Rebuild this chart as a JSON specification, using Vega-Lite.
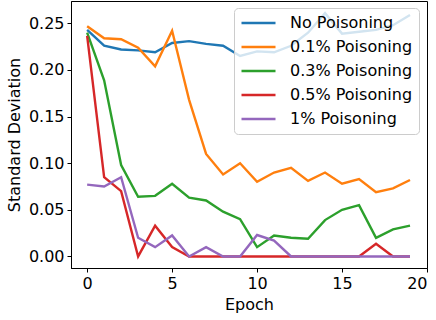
{
  "$schema": "https://vega.github.io/schema/vega-lite/v6.json",
  "autosize": "none",
  "width": 356,
  "height": 267,
  "padding": {"left": 71, "top": 1, "right": 9, "bottom": 52},
  "config": {
    "font": "DejaVu Sans",
    "view": {"stroke": "black", "strokeWidth": 1},
    "axis": {
      "grid": false,
      "domainColor": "black",
      "tickColor": "black",
      "labelColor": "black",
      "titleColor": "black",
      "labelFontSize": 16,
      "titleFontSize": 16,
      "titleFontWeight": "normal",
      "tickSize": 4,
      "labelPadding": 3
    },
    "legend": {
      "labelFontSize": 16,
      "labelColor": "black"
    }
  },
  "datasets": {
    "d": [
      {"epoch":0,"series":"No Poisoning","sd":0.243},{"epoch":1,"series":"No Poisoning","sd":0.226},{"epoch":2,"series":"No Poisoning","sd":0.222},{"epoch":3,"series":"No Poisoning","sd":0.221},{"epoch":4,"series":"No Poisoning","sd":0.219},{"epoch":5,"series":"No Poisoning","sd":0.229},{"epoch":6,"series":"No Poisoning","sd":0.231},{"epoch":7,"series":"No Poisoning","sd":0.228},{"epoch":8,"series":"No Poisoning","sd":0.226},{"epoch":9,"series":"No Poisoning","sd":0.215},{"epoch":10,"series":"No Poisoning","sd":0.220},{"epoch":11,"series":"No Poisoning","sd":0.219},{"epoch":12,"series":"No Poisoning","sd":0.226},{"epoch":13,"series":"No Poisoning","sd":0.240},{"epoch":14,"series":"No Poisoning","sd":0.261},{"epoch":15,"series":"No Poisoning","sd":0.239},{"epoch":16,"series":"No Poisoning","sd":0.241},{"epoch":17,"series":"No Poisoning","sd":0.243},{"epoch":18,"series":"No Poisoning","sd":0.248},{"epoch":19,"series":"No Poisoning","sd":0.259},
      {"epoch":0,"series":"0.1% Poisoning","sd":0.247},{"epoch":1,"series":"0.1% Poisoning","sd":0.234},{"epoch":2,"series":"0.1% Poisoning","sd":0.233},{"epoch":3,"series":"0.1% Poisoning","sd":0.224},{"epoch":4,"series":"0.1% Poisoning","sd":0.204},{"epoch":5,"series":"0.1% Poisoning","sd":0.242},{"epoch":6,"series":"0.1% Poisoning","sd":0.168},{"epoch":7,"series":"0.1% Poisoning","sd":0.110},{"epoch":8,"series":"0.1% Poisoning","sd":0.088},{"epoch":9,"series":"0.1% Poisoning","sd":0.100},{"epoch":10,"series":"0.1% Poisoning","sd":0.080},{"epoch":11,"series":"0.1% Poisoning","sd":0.090},{"epoch":12,"series":"0.1% Poisoning","sd":0.095},{"epoch":13,"series":"0.1% Poisoning","sd":0.081},{"epoch":14,"series":"0.1% Poisoning","sd":0.090},{"epoch":15,"series":"0.1% Poisoning","sd":0.078},{"epoch":16,"series":"0.1% Poisoning","sd":0.083},{"epoch":17,"series":"0.1% Poisoning","sd":0.069},{"epoch":18,"series":"0.1% Poisoning","sd":0.073},{"epoch":19,"series":"0.1% Poisoning","sd":0.082},
      {"epoch":0,"series":"0.3% Poisoning","sd":0.240},{"epoch":1,"series":"0.3% Poisoning","sd":0.189},{"epoch":2,"series":"0.3% Poisoning","sd":0.098},{"epoch":3,"series":"0.3% Poisoning","sd":0.064},{"epoch":4,"series":"0.3% Poisoning","sd":0.065},{"epoch":5,"series":"0.3% Poisoning","sd":0.078},{"epoch":6,"series":"0.3% Poisoning","sd":0.063},{"epoch":7,"series":"0.3% Poisoning","sd":0.060},{"epoch":8,"series":"0.3% Poisoning","sd":0.048},{"epoch":9,"series":"0.3% Poisoning","sd":0.040},{"epoch":10,"series":"0.3% Poisoning","sd":0.010},{"epoch":11,"series":"0.3% Poisoning","sd":0.0225},{"epoch":12,"series":"0.3% Poisoning","sd":0.020},{"epoch":13,"series":"0.3% Poisoning","sd":0.019},{"epoch":14,"series":"0.3% Poisoning","sd":0.039},{"epoch":15,"series":"0.3% Poisoning","sd":0.050},{"epoch":16,"series":"0.3% Poisoning","sd":0.055},{"epoch":17,"series":"0.3% Poisoning","sd":0.020},{"epoch":18,"series":"0.3% Poisoning","sd":0.029},{"epoch":19,"series":"0.3% Poisoning","sd":0.033},
      {"epoch":0,"series":"0.5% Poisoning","sd":0.2365},{"epoch":1,"series":"0.5% Poisoning","sd":0.085},{"epoch":2,"series":"0.5% Poisoning","sd":0.070},{"epoch":3,"series":"0.5% Poisoning","sd":0.0},{"epoch":4,"series":"0.5% Poisoning","sd":0.033},{"epoch":5,"series":"0.5% Poisoning","sd":0.010},{"epoch":6,"series":"0.5% Poisoning","sd":0.0},{"epoch":7,"series":"0.5% Poisoning","sd":0.0},{"epoch":8,"series":"0.5% Poisoning","sd":0.0},{"epoch":9,"series":"0.5% Poisoning","sd":0.0},{"epoch":10,"series":"0.5% Poisoning","sd":0.0},{"epoch":11,"series":"0.5% Poisoning","sd":0.0},{"epoch":12,"series":"0.5% Poisoning","sd":0.0},{"epoch":13,"series":"0.5% Poisoning","sd":0.0},{"epoch":14,"series":"0.5% Poisoning","sd":0.0},{"epoch":15,"series":"0.5% Poisoning","sd":0.0},{"epoch":16,"series":"0.5% Poisoning","sd":0.0},{"epoch":17,"series":"0.5% Poisoning","sd":0.0136},{"epoch":18,"series":"0.5% Poisoning","sd":0.0},{"epoch":19,"series":"0.5% Poisoning","sd":0.0},
      {"epoch":0,"series":"1% Poisoning","sd":0.077},{"epoch":1,"series":"1% Poisoning","sd":0.075},{"epoch":2,"series":"1% Poisoning","sd":0.085},{"epoch":3,"series":"1% Poisoning","sd":0.020},{"epoch":4,"series":"1% Poisoning","sd":0.010},{"epoch":5,"series":"1% Poisoning","sd":0.0225},{"epoch":6,"series":"1% Poisoning","sd":0.0},{"epoch":7,"series":"1% Poisoning","sd":0.010},{"epoch":8,"series":"1% Poisoning","sd":0.0},{"epoch":9,"series":"1% Poisoning","sd":0.0},{"epoch":10,"series":"1% Poisoning","sd":0.023},{"epoch":11,"series":"1% Poisoning","sd":0.017},{"epoch":12,"series":"1% Poisoning","sd":0.0},{"epoch":13,"series":"1% Poisoning","sd":0.0},{"epoch":14,"series":"1% Poisoning","sd":0.0},{"epoch":15,"series":"1% Poisoning","sd":0.0},{"epoch":16,"series":"1% Poisoning","sd":0.0},{"epoch":17,"series":"1% Poisoning","sd":0.0},{"epoch":18,"series":"1% Poisoning","sd":0.0},{"epoch":19,"series":"1% Poisoning","sd":0.0}
    ]
  },
  "data": {"name": "d"},
  "mark": {"type": "line", "strokeWidth": 2.4, "clip": true},
  "encoding": {
    "x": {
      "field": "epoch", "type": "quantitative", "title": "Epoch",
      "scale": {"domain": [-0.95, 20], "nice": false, "zero": false},
      "axis": {"values": [0, 5, 10, 15, 20], "format": "d", "titlePadding": 5}
    },
    "y": {
      "field": "sd", "type": "quantitative", "title": "Standard Deviation",
      "scale": {"domain": [-0.0124, 0.274], "nice": false, "zero": false},
      "axis": {"values": [0, 0.05, 0.1, 0.15, 0.2, 0.25], "format": ".2f", "titlePadding": 6}
    },
    "color": {
      "field": "series", "type": "nominal",
      "scale": {
        "domain": ["No Poisoning", "0.1% Poisoning", "0.3% Poisoning", "0.5% Poisoning", "1% Poisoning"],
        "range": ["#1f77b4", "#ff7f0e", "#2ca02c", "#d62728", "#9467bd"]
      },
      "legend": {
        "title": null,
        "orient": "none",
        "legendX": 163,
        "legendY": 7,
        "fillColor": "rgba(255,255,255,0.8)",
        "strokeColor": "#cccccc",
        "cornerRadius": 4,
        "padding": 6,
        "symbolType": "stroke",
        "symbolSize": 1156,
        "symbolStrokeWidth": 2.4,
        "clipHeight": 18,
        "rowPadding": 6,
        "labelOffset": 13
      }
    }
  }
}
